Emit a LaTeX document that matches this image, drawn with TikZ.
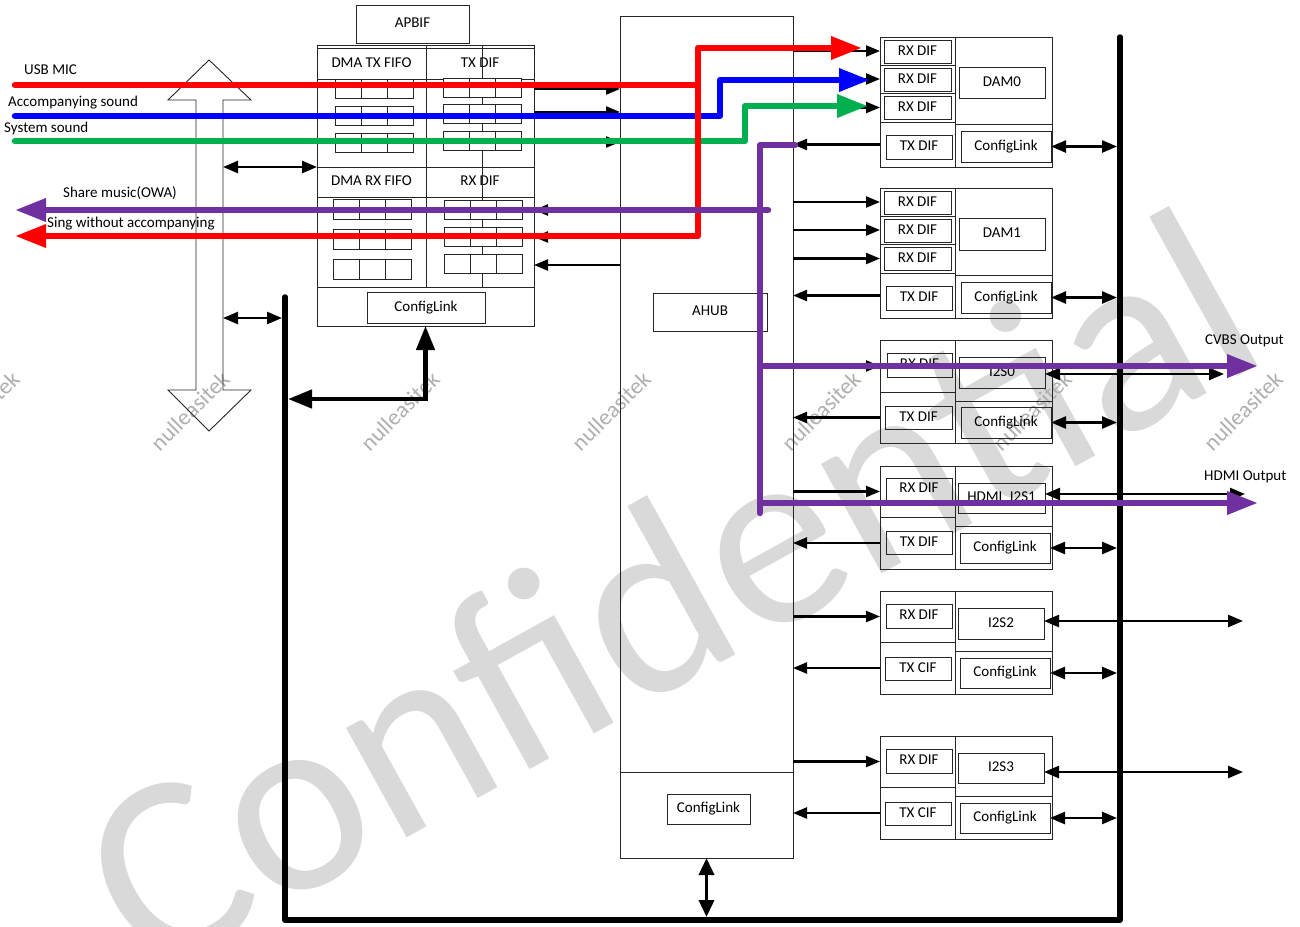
\documentclass[tikz,border=0pt]{standalone}
\usepackage{fontspec}
\setmainfont{Carlito}
\usetikzlibrary{arrows.meta,calc}
\definecolor{cpurple}{HTML}{7030A0}
\definecolor{cgreen}{HTML}{00B050}
\definecolor{wmgrey}{HTML}{D9D9D9}
\definecolor{wmgreyb}{HTML}{B0B0B0}
\newcommand\lblfont{\fontsize{15}{17}\selectfont}
\newcommand\bx[7][]{\node[bxs,#1,minimum width={#5-#3},minimum height={#6-#4}] (#2) at ({(#3+#5)/2},{(#4+#6)/2}) {#7};}
\newcommand\cellrow[5]{\foreach \i in {0,1,2} {\node[cell,minimum width=#3,minimum height=#4] (#5\i) at ({#1+(\i+0.5)*#3},{#2+#4/2}) {};}}
\begin{document}
\begin{tikzpicture}[x=1pt,y=-1pt,
  bxs/.style={draw=black!85, line width=0.9pt, inner sep=0pt, outer sep=0pt, font=\lblfont, text height=10pt, text depth=3pt},
  cell/.style={bxs, fill=white},
  thinln/.style={draw=black!85, line width=0.9pt},
  lbl/.style={inner sep=0pt, anchor=west, font=\lblfont, text height=10pt, text depth=3pt},
  arr/.style={line width=2.3pt, -{Triangle[length=14pt,width=11pt]}},
  darr/.style={line width=2.5pt, {Triangle[length=15pt,width=12pt]}-{Triangle[length=15pt,width=12pt]}},
  tharr/.style={line width=4.5pt, {Triangle[length=24pt,width=18pt]}-{Triangle[length=24pt,width=18pt]}},
  vdarr/.style={line width=3.5pt, {Triangle[length=17pt,width=15pt]}-{Triangle[length=17pt,width=15pt]}},
  bus/.style={line width=5.5pt, line cap=round, line join=round},
  colln/.style={line width=6.5pt, line cap=round, line join=round},
  colarr/.style={colln, -{Triangle[length=31pt,width=22pt]}},
  wm/.style={text=wmgrey, inner sep=0pt},
  wmb/.style={text=wmgreyb, inner sep=0pt, font=\fontsize{23}{23}\selectfont, rotate=45}
]
\fill[white] (0,0) rectangle (1300,926);
\useasboundingbox (0,0) rectangle (1300,926);

% watermarks
\node[wm, rotate=29, font=\fontsize{262}{262}\selectfont] (conf) at (668,590) {Confidential};
\foreach \x [count=\k] in {-20,190,400,611,821,1032,1243} \node[wmb] (nl\k) at (\x,411) {nulleasitek};

% hollow double arrow
\draw[thinln] (209,60) -- (251,100) -- (223,100) -- (223,390) -- (251,390) -- (209,431) -- (168,390) -- (196,390) -- (196,100) -- (168,100) -- cycle;
\coordinate (shA) at (223,167);
\coordinate (shB) at (223,318);

% APBIF / DMA block
\bx{apbif}{356}{5}{469}{43}{APBIF}
\bx{dma}{317}{45}{534}{326}{}
\bx{txfifo}{317}{48}{426}{79}{DMA TX FIFO}
\bx{txdif}{426}{48}{534}{79}{TX DIF}
\bx{rxfifo}{317}{167}{426}{197}{DMA RX FIFO}
\bx{rxdif}{426}{167}{534}{197}{RX DIF}
\draw[thinln] (426,45) -- (426,287);
\draw[thinln] (317,287) -- (534,287);
\draw[thinln] (482,45) -- (482,287);
\cellrow{335}{79}{26}{19}{tfa}
\cellrow{335}{106}{26}{19}{tfb}
\cellrow{335}{133}{26}{19}{tfc}
\cellrow{443}{78}{26}{19}{tda}
\cellrow{443}{104}{26}{19}{tdb}
\cellrow{443}{131}{26}{19}{tdc}
\cellrow{333}{199}{26}{20}{rfa}
\cellrow{333}{229}{26}{20}{rfb}
\cellrow{333}{259}{26}{20}{rfc}
\cellrow{444}{200}{26}{19}{rda}
\cellrow{444}{227}{26}{19}{rdb}
\cellrow{444}{254}{26}{19}{rdc}
\bx{dmacl}{367}{292}{485}{323}{ConfigLink}

% AHUB
\bx{ahub}{620}{16}{793}{858}{}
\draw[thinln] (620,772) -- (793,772);
\bx{ahubl}{653}{293}{767}{331}{AHUB}
\bx{ahubcl}{667}{794}{750}{824}{ConfigLink}

% DAM0
\bx{d0s1}{880}{37}{955}{65}{}
\bx{d0s2}{880}{65}{955}{93}{}
\bx{d0s3}{880}{93}{955}{122}{}
\bx{d0ts}{880}{122}{955}{167}{}
\bx{d0ru}{955}{37}{1052}{124}{}
\bx{d0rl}{955}{124}{1052}{167}{}
\bx{d0r1}{884}{40}{951}{63}{RX DIF}
\bx{d0r2}{884}{68}{951}{91}{RX DIF}
\bx{d0r3}{884}{96}{951}{119}{RX DIF}
\bx{d0tx}{886}{135}{952}{159}{TX DIF}
\bx{d0b}{959}{67}{1045}{98}{DAM0}
\bx{d0cl}{961}{131}{1051}{162}{ConfigLink}
% DAM1
\bx{d1s1}{880}{188}{955}{216}{}
\bx{d1s2}{880}{216}{955}{244}{}
\bx{d1s3}{880}{244}{955}{273}{}
\bx{d1ts}{880}{273}{955}{318}{}
\bx{d1ru}{955}{188}{1052}{275}{}
\bx{d1rl}{955}{275}{1052}{318}{}
\bx{d1r1}{884}{191}{951}{214}{RX DIF}
\bx{d1r2}{884}{219}{951}{242}{RX DIF}
\bx{d1r3}{884}{247}{951}{270}{RX DIF}
\bx{d1tx}{886}{286}{952}{310}{TX DIF}
\bx{d1b}{959}{218}{1045}{250}{DAM1}
\bx{d1cl}{961}{282}{1051}{313}{ConfigLink}
% I2S0
\bx{i0rs}{880}{340}{955}{392}{}
\bx{i0ts}{880}{392}{955}{443}{}
\bx{i0ru}{955}{340}{1052}{401}{}
\bx{i0rl}{955}{401}{1052}{443}{}
\bx{i0rx}{887}{353}{952}{377}{RX DIF}
\bx{i0b}{959}{357}{1045}{388}{I2S0}
\bx{i0tx}{885}{406}{952}{429}{TX DIF}
\bx{i0cl}{961}{407}{1051}{438}{ConfigLink}
% I2S1
\bx{i1rs}{880}{466}{955}{517}{}
\bx{i1ts}{880}{517}{955}{569}{}
\bx{i1ru}{955}{466}{1052}{526}{}
\bx{i1rl}{955}{526}{1052}{569}{}
\bx{i1rx}{886}{478}{952}{500}{RX DIF}
\bx{i1b}{958}{483}{1045}{513}{HDMI\_I2S1}
\bx{i1tx}{886}{531}{952}{554}{TX DIF}
\bx{i1cl}{960}{533}{1050}{563}{ConfigLink}
% I2S2
\bx{i2rs}{880}{591}{955}{642}{}
\bx{i2ts}{880}{642}{955}{694}{}
\bx{i2ru}{955}{591}{1052}{651}{}
\bx{i2rl}{955}{651}{1052}{694}{}
\bx{i2rx}{886}{604}{952}{628}{RX DIF}
\bx{i2b}{958}{608}{1044}{639}{I2S2}
\bx{i2tx}{885}{657}{951}{680}{TX CIF}
\bx{i2cl}{960}{658}{1050}{688}{ConfigLink}
% I2S3
\bx{i3rs}{880}{736}{955}{787}{}
\bx{i3ts}{880}{787}{955}{839}{}
\bx{i3ru}{955}{736}{1052}{796}{}
\bx{i3rl}{955}{796}{1052}{839}{}
\bx{i3rx}{886}{749}{952}{773}{RX DIF}
\bx{i3b}{958}{753}{1044}{783}{I2S3}
\bx{i3tx}{885}{802}{951}{825}{TX CIF}
\bx{i3cl}{960}{803}{1050}{833}{ConfigLink}

% labels
\node[lbl] (lusb) at (24,71) {USB MIC};
\node[lbl] (lacc) at (8,103) {Accompanying sound};
\node[lbl] (lsys) at (4,129) {System sound};
\node[lbl] (lowa) at (63,194) {Share music(OWA)};
\node[lbl] (lsing) at (47,224) {Sing without accompanying};
\node[lbl] (lcvbs) at (1205,341) {CVBS Output};
\node[lbl] (lhdmi) at (1204,477) {HDMI Output};

% bus
\coordinate (bustop) at (1120,37);
\coordinate (busbr) at (1120,920);
\coordinate (busbl) at (285,920);
\coordinate (busl) at (285,297);
\draw[bus] (busl) -- (busbl) -- (busbr) -- (bustop);
\coordinate (busj) at (285,399);
\coordinate (busa) at (706.5,920);

% black connectors
\draw[darr] (shA) -- (dma.west |- shA);
\draw[darr, shorten >=3pt] (shB) -- (busl |- shB);
\draw[tharr, shorten <=3pt] (busj) -| (dma.south);
\draw[vdarr, shorten >=3pt] (ahub.south) -- (busa);
\foreach \y in {89,112,142} \draw[arr] (dma.east |- 0,\y) -- (ahub.west |- 0,\y);
\foreach \y in {210,237,265} \draw[arr] (ahub.west |- 0,\y) -- (dma.east |- 0,\y);
\foreach \n in {d0s1,d0s2,d0s3,d1s1,d1s2,d1s3,i0rs,i1rs,i2rs,i3rs} \draw[arr] (ahub.east |- \n.west) -- (\n.west);
\foreach \n in {d0ts,d1ts,i0tx,i1ts,i2ts,i3ts} \draw[arr] (\n.west -| d0s1.west) -- (ahub.east |- \n.west);
\foreach \n in {d0cl,d1cl,i0cl,i1cl,i2cl,i3cl} \draw[darr, shorten >=3pt] (\n.east) -- (bustop |- \n.east);
\coordinate (o0) at (1224,374);
\coordinate (o1) at (1245,494);
\coordinate (o2) at (1243,621);
\coordinate (o3) at (1243,772);
\draw[darr] (i0b.east |- o0) -- (o0);
\draw[darr] (i1b.east |- o1) -- (o1);
\draw[darr] (i2b.east |- o2) -- (o2);
\draw[darr] (i3b.east |- o3) -- (o3);

% coloured streams
\coordinate (usbin) at (15,85);
\coordinate (accin) at (15,116);
\coordinate (sysin) at (15,141);
\coordinate (owaout) at (15,210);
\coordinate (singout) at (15,236);
\coordinate (rsplit) at (698,85);
\coordinate (redtip) at (862,48);
\coordinate (bj) at (720,80);
\coordinate (bluetip) at (870,80);
\coordinate (gj) at (745,106);
\coordinate (greentip) at (868,106);
\coordinate (ptop) at (795,145);
\coordinate (pbot) at (760,513);
\coordinate (powa) at (768,210);
\coordinate (cvbs) at (1258,366);
\coordinate (hdmi) at (1258,503);
\draw[colarr, cgreen] (sysin) -| (gj) -- (greentip);
\draw[colarr, blue] (accin) -| (bj) -- (bluetip);
\draw[colarr, red] (usbin) -- (rsplit) |- (redtip);
\draw[colarr, red] (rsplit) |- (singout);
\draw[colln, cpurple] (ptop) -| (pbot);
\draw[colarr, cpurple] (powa) -- (owaout);
\draw[colarr, cpurple] (pbot |- cvbs) -- (cvbs);
\draw[colarr, cpurple] (pbot |- hdmi) -- (hdmi);
\end{tikzpicture}
\end{document}
